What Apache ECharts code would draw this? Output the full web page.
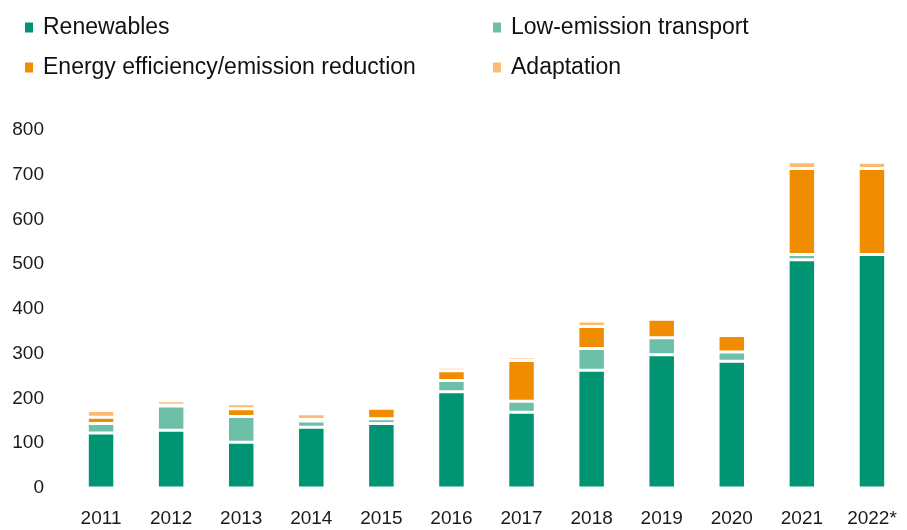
<!DOCTYPE html>
<html>
<head>
<meta charset="utf-8">
<script src="https://cdn.jsdelivr.net/npm/echarts@6/dist/echarts.min.js"></script>
<style>
html,body{margin:0;padding:0;background:#fff;}
#chart{width:907px;height:530px;}
</style>
</head>
<body>
<div id="chart"></div>
<script>
const years = ['2011','2012','2013','2014','2015','2016','2017','2018','2019','2020','2021','2022*'];
const renewables   = [123, 129, 102, 136, 144, 215, 169, 263, 298, 283, 510, 522];
const lowEmission  = [21, 54, 58, 14, 11, 25, 25, 49, 38, 21, 12, 0];
const efficiency   = [14, 2, 17, 3, 23, 22, 91, 49, 41, 37, 192, 192];
const adaptation   = [15, 10, 11, 13, 7, 8, 8, 12, 7, 0, 15, 14];
const yTicks = [0, 100, 200, 300, 400, 500, 600, 700, 800];

const seriesNames = ['Renewables', 'Low-emission transport', 'Energy efficiency/emission reduction', 'Adaptation'];
const colors = ['#009473', '#6dbfa8', '#f08c00', '#fdba74'];
const values = [renewables, lowEmission, efficiency, adaptation];

const FONT = "'Liberation Sans', Arial, sans-serif";
const legendPos = [[25, 16], [493, 16], [25, 56], [493, 56]];

const chart = echarts.init(document.getElementById('chart'), null, {renderer: 'canvas'});
chart.setOption({
  animation: false,
  backgroundColor: '#fff',
  legend: seriesNames.map((n, i) => ({
    data: [n],
    left: legendPos[i][0],
    top: legendPos[i][1],
    itemWidth: 8,
    itemHeight: 10,
    icon: 'rect',
    padding: 0,
    itemStyle: {borderWidth: 0},
    textStyle: {fontFamily: FONT, fontSize: 23, color: '#111', padding: [0, 0, 0, 5]}
  })),
  grid: {left: 66, right: -7, top: 130, bottom: 42, containLabel: false},
  xAxis: {
    type: 'category',
    data: years,
    axisLine: {show: false},
    axisTick: {show: false},
    axisLabel: {fontFamily: FONT, fontSize: 19, color: '#1a1a1a', margin: 21, interval: 0}
  },
  yAxis: {
    type: 'value',
    min: yTicks[0],
    max: yTicks[yTicks.length - 1],
    interval: 100,
    axisLine: {show: false},
    axisTick: {show: false},
    splitLine: {show: false},
    axisLabel: {fontFamily: FONT, fontSize: 19, color: '#1a1a1a', margin: 22, padding: [4, 0, 0, 0]}
  },
  series: seriesNames.map((n, i) => ({
    name: n,
    type: 'bar',
    stack: 'total',
    barWidth: 27.5,
    data: values[i],
    itemStyle: {color: colors[i], borderColor: '#ffffff', borderWidth: 1.5}
  }))
});
</script>
</body>
</html>
